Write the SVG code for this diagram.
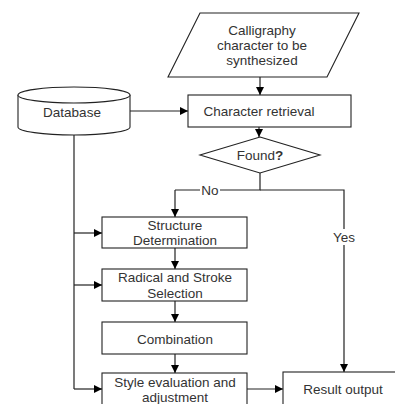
<svg xmlns="http://www.w3.org/2000/svg" width="395" height="404" viewBox="0 0 395 404">
<defs>
<marker id="ah" viewBox="0 0 10 10" refX="10" refY="5" markerWidth="8" markerHeight="8" markerUnits="userSpaceOnUse" orient="auto">
<path d="M0,0 L10,5 L0,10 z" fill="#000"/>
</marker>
<style>
.s{fill:#fff;stroke:#222;stroke-width:1.1}
.t{font-family:"Liberation Sans",Arial,sans-serif;font-size:13.5px;fill:#333;text-anchor:middle;dominant-baseline:central}
.c{fill:none;stroke:#222;stroke-width:1.2}
.a{marker-end:url(#ah)}
</style>
</defs>
<rect width="395" height="404" fill="#fff"/>
<g id="connectors">
<path class="c a" d="M260,77 V95"/>
<path class="c a" d="M130,111 H188"/>
<path class="c a" d="M259,127 V137"/>
<path class="c" d="M260,173 V190 H175"/>
<path class="c a" d="M175,190 V217"/>
<path class="c a" d="M260,190 H344 V372"/>
<path class="c" d="M74,135 V389"/>
<path class="c a" d="M74,233 H102"/>
<path class="c a" d="M74,285 H102"/>
<path class="c a" d="M74,389 H102"/>
<path class="c a" d="M175,248 V269"/>
<path class="c a" d="M175,301 V322"/>
<path class="c a" d="M175,354 V373"/>
<path class="c a" d="M247,389 H283"/>
<rect x="200" y="182" width="20" height="16" fill="#fff"/>
<text class="t" x="210" y="190">No</text>
<rect x="330" y="229" width="28" height="16" fill="#fff"/>
<text class="t" x="344" y="237">Yes</text>
</g>
<g id="input">
<path class="s" d="M200,13 H359 L327,77 H168 Z"/>
<text class="t" x="262" y="30">Calligraphy</text>
<text class="t" x="262" y="45">character to be</text>
<text class="t" x="262" y="60">synthesized</text>
</g>
<g id="database">
<path class="s" d="M18,95 V127 A56,8 0 0 0 130,127 V95 A56,8 0 0 0 18,95 Z"/>
<path class="s" d="M18,95 A56,8 0 0 0 130,95" fill="none"/>
<text class="t" x="72" y="112">Database</text>
</g>
<g id="retrieval">
<rect class="s" x="188" y="95" width="163" height="32"/>
<text class="t" x="259" y="111">Character retrieval</text>
</g>
<g id="found">
<path class="s" d="M260,137 L320,155 L260,173 L200,155 Z"/>
<text class="t" x="260" y="155">Found<tspan font-weight="bold">?</tspan></text>
</g>
<g id="structure">
<rect class="s" x="102" y="217" width="145" height="31"/>
<text class="t" x="175" y="225">Structure</text>
<text class="t" x="175" y="240">Determination</text>
</g>
<g id="radical">
<rect class="s" x="102" y="269" width="145" height="32"/>
<text class="t" x="175" y="277">Radical and Stroke</text>
<text class="t" x="175" y="293">Selection</text>
</g>
<g id="combination">
<rect class="s" x="102" y="322" width="145" height="32"/>
<text class="t" x="175" y="339">Combination</text>
</g>
<g id="style">
<rect class="s" x="102" y="373" width="145" height="40"/>
<text class="t" x="175" y="382">Style evaluation and</text>
<text class="t" x="175" y="397">adjustment</text>
</g>
<g id="result">
<rect class="s" x="283" y="372" width="130" height="40"/>
<text class="t" x="343" y="389">Result output</text>
</g>
</svg>
